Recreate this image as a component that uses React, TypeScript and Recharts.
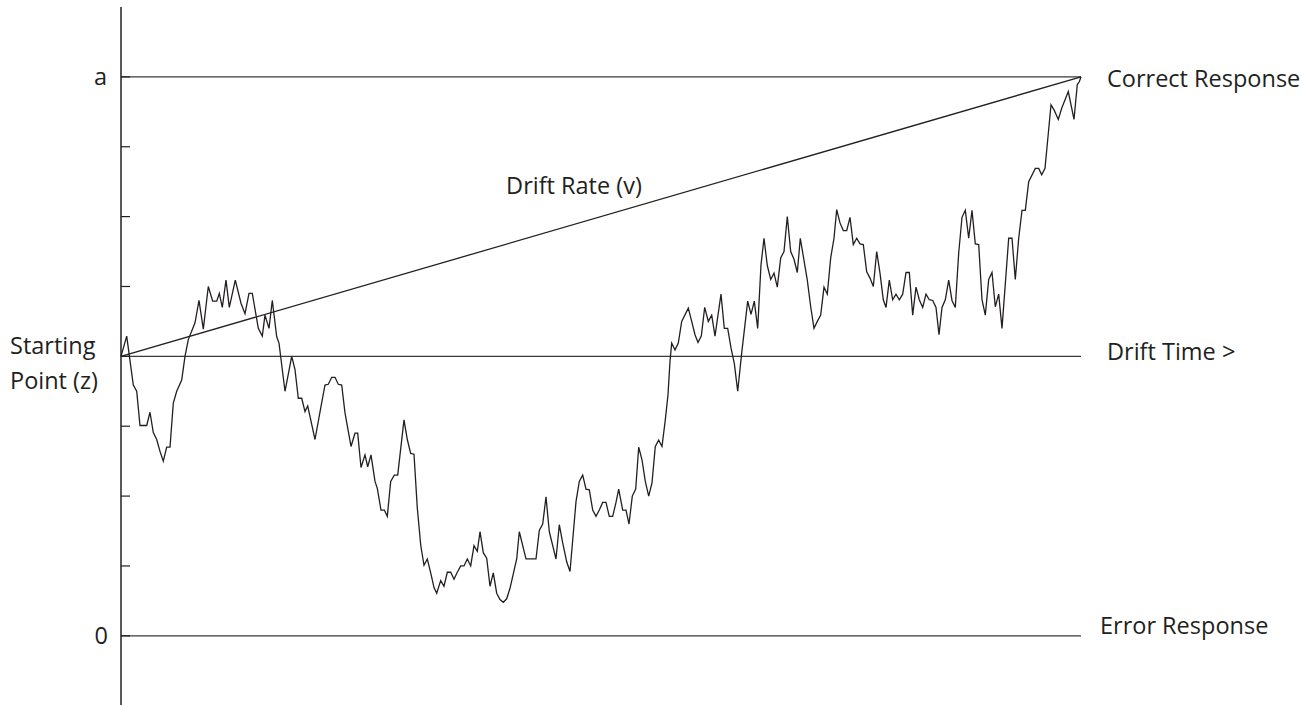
import { LineChart, Line, XAxis, YAxis, ReferenceLine, ReferenceDot, Label } from 'recharts'

// diffusion model sketch: one noisy evidence path from z to the upper bound a
const WALK_T = [
  0, 5.7, 12.3, 15.7, 19, 25.7, 29, 32.3, 35.7, 39, 42.3, 45.7, 49, 52.3, 55.7, 60.7, 64, 67.3, 74, 78,
  82.3, 87.3, 91.7, 95.7, 98.3, 101.3, 105, 108.3, 114.3, 120, 124, 128, 131.3, 137.3, 141.3, 144, 148, 151.3, 155.7, 158,
  164, 170.7, 174, 177.3, 180.7, 184, 186.7, 194, 199.7, 204, 207.3, 210.7, 214, 217.3, 220.7, 224, 230, 234, 236.7, 240,
  244, 246.7, 250, 254, 256.3, 260, 263.3, 266.3, 269.7, 273.3, 276.7, 283, 286.3, 289.7, 293, 296.3, 299.7, 303, 306.3, 309.7,
  313, 315.7, 319.7, 323, 326.3, 329.7, 333, 336.3, 339.7, 343, 346.3, 349.7, 353, 356.3, 359, 362.3, 365.7, 369, 372.3, 375.7,
  379, 382.3, 385.7, 389, 395.7, 398.3, 405, 415, 418.3, 421.7, 425, 428.3, 435, 438.3, 441.7, 445.7, 449, 455, 458.3, 461.7,
  465, 468.3, 471.7, 475, 478.3, 481.7, 485, 488.3, 491.7, 495, 497.7, 501.7, 505, 508, 511.3, 514.7, 517.7, 521, 524.3, 527.7,
  531, 534.3, 537.7, 541, 544.3, 547, 549, 550.7, 554, 557.3, 560.7, 567.3, 570.7, 574, 577, 580.3, 583.7, 587.3, 590.7, 594,
  600, 603.3, 606.7, 610, 613.3, 616.7, 620.7, 626.7, 630, 633.3, 636.7, 640, 643, 646.3, 649.7, 653, 656.3, 659.7, 663, 666.3,
  669.7, 673, 676.3, 679.3, 686.3, 689.7, 693, 696.3, 699.7, 703, 706.3, 709.7, 713, 715.7, 719, 722.3, 725.7, 729, 732.3, 735.7,
  739, 742.3, 745.7, 749, 752.3, 755.7, 759, 762.3, 765, 768.3, 771.7, 775, 778.3, 781.7, 785, 788.3, 791.7, 795, 798.3, 801.7,
  805, 808.3, 811.7, 815, 818, 821, 824.3, 827.7, 831, 834.3, 837.7, 841, 844.3, 847.7, 851, 854.3, 857.7, 861, 864.3, 867.7,
  871, 874.3, 877.7, 881, 887.7, 891, 894.3, 897.7, 901, 904.3, 907.7, 914.3, 917.7, 920.7, 924, 927.3, 930, 933.3, 937.3, 940.7,
  947.3, 953, 956.3, 958.3, 960,
]
const WALK_V = [
  4.0, 4.29, 3.59, 3.5, 3.01, 3.01, 3.2, 2.91, 2.81, 2.64, 2.5, 2.7, 2.7, 3.33, 3.5, 3.66, 4.0, 4.24, 4.48, 4.8,
  4.39, 5.0, 4.79, 4.79, 4.9, 4.7, 5.09, 4.7, 5.09, 4.76, 4.61, 4.9, 4.9, 4.4, 4.29, 4.59, 4.4, 4.8, 4.28, 4.19,
  3.5, 4.0, 3.81, 3.4, 3.4, 3.21, 3.29, 2.81, 3.26, 3.59, 3.6, 3.7, 3.7, 3.6, 3.59, 3.19, 2.71, 2.9, 2.9, 2.41,
  2.59, 2.42, 2.59, 2.21, 2.11, 1.8, 1.8, 1.71, 2.21, 2.3, 2.3, 3.09, 2.81, 2.61, 2.6, 1.83, 1.3, 1.01, 1.1, 0.9,
  0.69, 0.61, 0.79, 0.71, 0.91, 0.91, 0.81, 0.91, 1.0, 1.0, 1.1, 1.0, 1.29, 1.21, 1.49, 1.19, 1.11, 0.71, 0.9, 0.61,
  0.52, 0.48, 0.53, 0.68, 1.1, 1.49, 1.1, 1.1, 1.51, 1.6, 1.99, 1.49, 1.1, 1.59, 1.33, 1.06, 0.92, 1.92, 2.21, 2.3,
  2.1, 2.09, 1.8, 1.71, 1.8, 1.91, 1.91, 1.71, 1.71, 1.91, 2.1, 1.8, 1.8, 1.6, 2.0, 2.1, 2.7, 2.52, 2.21, 2.0,
  2.19, 2.71, 2.8, 2.71, 3.09, 3.45, 3.93, 4.19, 4.09, 4.19, 4.5, 4.69, 4.5, 4.31, 4.2, 4.29, 4.7, 4.5, 4.59, 4.29,
  4.89, 4.4, 4.4, 4.12, 3.9, 3.5, 4.05, 4.79, 4.6, 4.79, 4.4, 5.31, 5.69, 5.3, 5.1, 5.19, 4.99, 5.41, 5.5, 6.0,
  5.5, 5.39, 5.2, 5.69, 5.09, 4.71, 4.4, 4.5, 4.59, 4.99, 4.89, 5.41, 5.69, 6.1, 5.91, 5.8, 5.8, 5.99, 5.6, 5.69,
  5.61, 5.6, 5.21, 5.12, 5.0, 5.5, 5.19, 4.81, 4.7, 5.09, 4.81, 4.89, 4.81, 4.89, 5.2, 5.2, 4.59, 4.99, 4.81, 4.7,
  4.89, 4.81, 4.8, 4.7, 4.31, 4.7, 4.81, 5.09, 4.8, 4.7, 5.48, 5.99, 6.09, 5.69, 6.09, 5.61, 5.6, 4.81, 4.59, 5.1,
  5.2, 4.71, 4.89, 4.4, 5.69, 5.69, 5.1, 5.69, 6.09, 6.09, 6.5, 6.69, 6.69, 6.6, 6.69, 7.19, 7.6, 7.52, 7.39, 7.55,
  7.79, 7.39, 7.89, 7.93, 8.0,
]

const Y_TICKS = [0, 1, 2, 3, 4, 5, 6, 7, 8]
const BOUND_A = 8
const BOUND_ZERO = 0
const START_Z = 4
const T_END = 960

const INK = '#231f20'
const FONT = '"Open Sans", sans-serif'
const FS = 23.5

const walkData = WALK_T.map((t, i) => ({ t, v: WALK_V[i] }))

function StartLabel({ viewBox }: any) {
  if (!viewBox) return null
  const { x, y } = viewBox
  return (
    <text x={x - 111} y={y - 2} fill={INK} fontFamily={FONT} fontSize={FS} textAnchor="start">
      <tspan x={x - 111}>Starting</tspan>
      <tspan x={x - 111} dy={35}>Point (z)</tspan>
    </text>
  )
}

export default function App() {
  const txt = { fill: INK, fontFamily: FONT, fontSize: FS }
  return (
    <div style={{ width: 1316, height: 707 }}>
      <style>{'body{margin:0;background:#fff}'}</style>
      <LineChart
        width={1316}
        height={707}
        data={walkData}
        margin={{ top: 7, right: 235, bottom: 2, left: 121 }}
      >
        <XAxis dataKey="t" type="number" domain={[0, T_END]} hide />
        <YAxis
          type="number"
          domain={[-0.99, 9.0]}
          ticks={Y_TICKS}
          mirror
          tickSize={9}
          tick={() => <g />}
          axisLine={{ stroke: INK, strokeWidth: 1.5 }}
          tickLine={{ stroke: INK, strokeWidth: 1.2 }}
          allowDataOverflow
        />
        <ReferenceLine y={BOUND_A} stroke="#3a3a3a" strokeWidth={1.4}>
          <Label value="a" position="left" offset={14} {...txt} />
          <Label value="Correct Response" position="right" offset={26} dy={2} {...txt} />
        </ReferenceLine>
        <ReferenceLine y={START_Z} stroke="#3a3a3a" strokeWidth={1.4}>
          <Label content={<StartLabel />} />
          <Label value="Drift Time >" position="right" offset={26} dy={-5} {...txt} />
        </ReferenceLine>
        <ReferenceLine y={BOUND_ZERO} stroke="#3a3a3a" strokeWidth={1.4}>
          <Label value="0" position="left" offset={13} {...txt} />
          <Label value="Error Response" position="right" offset={19} dy={-10} {...txt} />
        </ReferenceLine>
        <ReferenceLine
          segment={[{ x: 0, y: START_Z }, { x: T_END, y: BOUND_A }]}
          stroke={INK}
          strokeWidth={1.3}
        />
        <ReferenceDot x={453} y={6.44} r={0} fill="none" stroke="none">
          <Label value="Drift Rate (v)" position="center" {...txt} />
        </ReferenceDot>
        <Line
          dataKey="v"
          type="linear"
          stroke={INK}
          strokeWidth={1.3}
          dot={false}
          isAnimationActive={false}
        />
      </LineChart>
    </div>
  )
}
